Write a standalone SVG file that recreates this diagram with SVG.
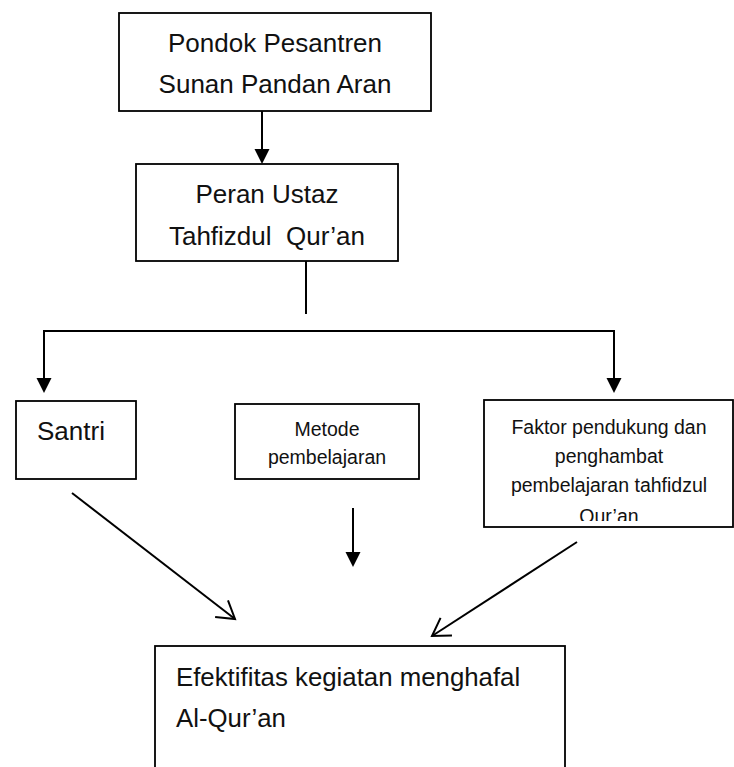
<svg xmlns="http://www.w3.org/2000/svg" width="734" height="767" viewBox="0 0 734 767">
<style>
.box{fill:#fff;stroke:#000;stroke-width:1.8}
.ln{fill:none;stroke:#000;stroke-width:2}
.t{font-family:"Liberation Sans",Arial,sans-serif;fill:#111}
.big{font-size:26px}
.sm{font-size:19.5px}
.c{text-anchor:middle}
</style>
<defs>
<marker id="fill" markerUnits="userSpaceOnUse" viewBox="-10 -10 20 20" markerWidth="20" markerHeight="20" refX="0" refY="0" orient="auto" overflow="visible">
<path d="M-7,-7.5 L8,0 L-7,7.5 Z" fill="#000"/>
</marker>
<marker id="open" markerUnits="userSpaceOnUse" viewBox="-20 -12 22 24" markerWidth="22" markerHeight="24" refX="0" refY="0" orient="auto" overflow="visible">
<path d="M-17,-10.5 L0,0 L-17,10.5" fill="none" stroke="#000" stroke-width="2"/>
</marker>
<clipPath id="fclip"><rect x="484" y="400" width="250" height="121"/></clipPath>
</defs>

<g id="connectors">
<line class="ln" x1="262" y1="111" x2="262" y2="156" marker-end="url(#fill)"/>
<line class="ln" x1="306" y1="261" x2="306" y2="314"/>
<polyline class="ln" points="44,385 44,331 614,331 614,385"/>
<line class="ln" x1="44" y1="340" x2="44" y2="385" marker-end="url(#fill)"/>
<line class="ln" x1="614" y1="340" x2="614" y2="385" marker-end="url(#fill)"/>
<line class="ln" x1="353" y1="508" x2="353" y2="559" marker-end="url(#fill)"/>
<line class="ln" x1="72" y1="493" x2="235" y2="619" marker-end="url(#open)"/>
<line class="ln" x1="577" y1="542" x2="432" y2="636" marker-end="url(#open)"/>
</g>

<g id="node-pondok">
<rect class="box" x="119" y="13" width="312" height="98"/>
<text class="t big c" x="275" y="52">Pondok Pesantren</text>
<text class="t big c" x="275" y="93">Sunan Pandan Aran</text>
</g>

<g id="node-peran">
<rect class="box" x="136" y="164" width="262" height="97"/>
<text class="t big c" x="267" y="203">Peran Ustaz</text>
<text class="t big c" x="267" y="245" xml:space="preserve">Tahfizdul  Qur’an</text>
</g>

<g id="node-santri">
<rect class="box" x="16" y="401" width="120" height="78"/>
<text class="t big" x="37" y="440">Santri</text>
</g>

<g id="node-metode">
<rect class="box" x="235" y="404" width="184" height="75"/>
<text class="t sm c" x="327" y="436">Metode</text>
<text class="t sm c" x="327" y="464">pembelajaran</text>
</g>

<g id="node-faktor">
<rect class="box" x="484" y="400" width="249" height="127"/>
<g clip-path="url(#fclip)">
<text class="t sm c" x="609" y="434">Faktor pendukung dan</text>
<text class="t sm c" x="609" y="463">penghambat</text>
<text class="t sm c" x="609" y="492">pembelajaran tahfidzul</text>
<text class="t sm c" x="609" y="523">Qur’an</text>
</g>
</g>

<g id="node-efektifitas">
<rect class="box" x="155" y="646" width="410" height="140"/>
<text class="t big" x="176" y="686" style="font-size:25.8px">Efektifitas kegiatan menghafal</text>
<text class="t big" x="176" y="727" style="font-size:25.8px">Al-Qur’an</text>
</g>
</svg>
